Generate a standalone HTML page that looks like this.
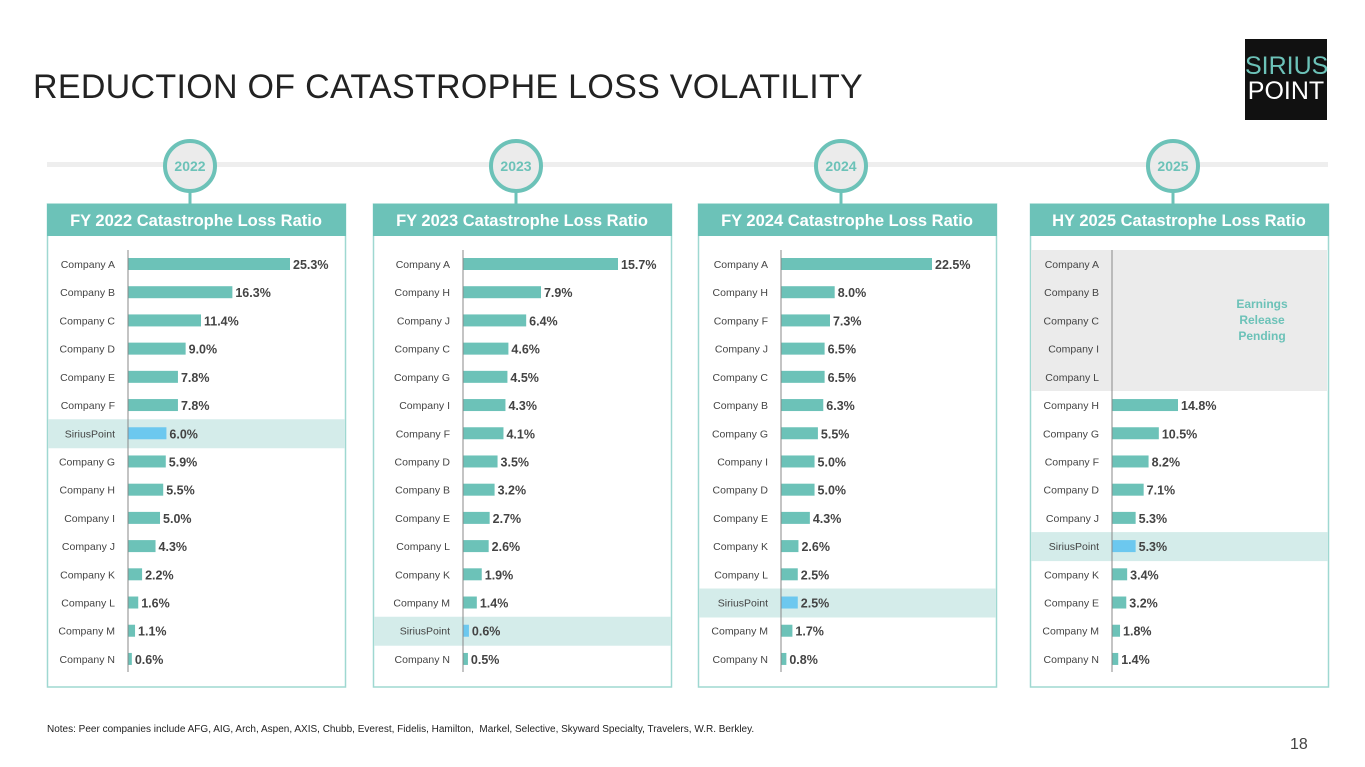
<!DOCTYPE html>
<html><head><meta charset="utf-8">
<style>
body{margin:0;width:1365px;height:767px;background:#fff;font-family:"Liberation Sans",sans-serif;position:relative;overflow:hidden}
#title{position:absolute;left:33px;top:68px;font-size:34px;color:#222;letter-spacing:0.3px;white-space:nowrap}
#logo{position:absolute;left:1245px;top:39px;width:82px;height:81px;background:#111;color:#fff;text-align:center;font-size:25px;line-height:25px}
.notes{position:absolute;left:47px;top:724px;font-size:10px;color:#222}
.pn{position:absolute;left:1290px;top:736px;font-size:16px;color:#444}
svg{position:absolute;left:0;top:0}
</style></head><body>
<div id="title">REDUCTION OF CATASTROPHE LOSS VOLATILITY</div>
<div id="logo"><div style="color:#6cc2b8;margin-top:15px">SIRIUS</div><div>POINT</div></div>
<svg id="chart" width="1365" height="767"></svg>
<div class="notes">Notes: Peer companies include AFG, AIG, Arch, Aspen, AXIS, Chubb, Everest, Fidelis, Hamilton,&nbsp; Markel, Selective, Skyward Specialty, Travelers, W.R. Berkley.</div>
<div class="pn">18</div>
<script>
const years=["2022","2023","2024","2025"];
const titles=["FY 2022 Catastrophe Loss Ratio","FY 2023 Catastrophe Loss Ratio","FY 2024 Catastrophe Loss Ratio","HY 2025 Catastrophe Loss Ratio"];
const cats1=["Company A","Company B","Company C","Company D","Company E","Company F","SiriusPoint","Company G","Company H","Company I","Company J","Company K","Company L","Company M","Company N"];
const vals1=[25.3,16.3,11.4,9.0,7.8,7.8,6.0,5.9,5.5,5.0,4.3,2.2,1.6,1.1,0.6];
const cats2=["Company A","Company H","Company J","Company C","Company G","Company I","Company F","Company D","Company B","Company E","Company L","Company K","Company M","SiriusPoint","Company N"];
const vals2=[15.7,7.9,6.4,4.6,4.5,4.3,4.1,3.5,3.2,2.7,2.6,1.9,1.4,0.6,0.5];
const cats3=["Company A","Company H","Company F","Company J","Company C","Company B","Company G","Company I","Company D","Company E","Company K","Company L","SiriusPoint","Company M","Company N"];
const vals3=[22.5,8.0,7.3,6.5,6.5,6.3,5.5,5.0,5.0,4.3,2.6,2.5,2.5,1.7,0.8];
const cats4=["Company A","Company B","Company C","Company I","Company L","Company H","Company G","Company F","Company D","Company J","SiriusPoint","Company K","Company E","Company M","Company N"];
const vals4=[null,null,null,null,null,14.8,10.5,8.2,7.1,5.3,5.3,3.4,3.2,1.8,1.4];
const maxes=[25.3,15.7,22.5,14.8];

const svg=document.getElementById('chart');const NS='http://www.w3.org/2000/svg';
function mk(t,a,p){const e=document.createElementNS(NS,t);for(const k in a)e.setAttribute(k,a[k]);(p||svg).appendChild(e);return e;}
const panels=[{x:47,cats:cats1,vals:vals1,base:128,w:162},{x:373,cats:cats2,vals:vals2,base:463,w:155},{x:698,cats:cats3,vals:vals3,base:781,w:151},{x:1030,cats:cats4,vals:vals4,base:1112,w:66}];
const T='#6cc2b8';
let l=mk('rect',{x:47,y:162,width:1281,height:5,fill:'#eeeeee'});


panels.forEach((p,i)=>{
  const W=298;
  let g=mk('g',{});
  
  
  mk('rect',{x:p.x+0.5,y:204,width:W,height:483,fill:'#fff',stroke:'#9fd8d1','stroke-width':1.5},g);
  let h=mk('rect',{x:p.x,y:204,width:W+1,height:32,fill:T},g);
  
  
  let ht=mk('text',{x:p.x+W/2,y:226,'text-anchor':'middle','font-size':16.5,'font-weight':'bold',fill:'#fff'},g);ht.textContent=titles[i];
  const cx=p.x+143;
  mk('rect',{x:cx-1.5,y:188,width:3,height:16,fill:T},g);
  let c=mk('circle',{cx:cx,cy:166,r:25,fill:'#ebebeb',stroke:T,'stroke-width':4},g);
  
  
  let yt=mk('text',{x:cx,y:171,'text-anchor':'middle','font-size':14,'font-weight':'bold',fill:T},g);yt.textContent=years[i];
  const row=k=>264+k*28.21;
  const sx=v=>v/maxes[i]*p.w;
  if(i==3){
    mk('rect',{x:p.x+1,y:250,width:W-2,height:141,fill:'#ebebeb'},g);
    ['Earnings','Release','Pending'].forEach((s,j)=>{let t=mk('text',{x:1262,y:308+j*16,'text-anchor':'middle','font-size':12,'font-weight':'bold',fill:T},g);t.textContent=s;});
  }
  p.cats.forEach((cn,k)=>{
    const y=row(k);const sp=cn==='SiriusPoint';
    if(sp){mk('rect',{x:p.x+1,y:y-14,width:W-1,height:29,fill:'#d4ecea'},g);}
    let t=mk('text',{x:p.base-13,y:y+4,'text-anchor':'end','font-size':10.5,fill:'#444'},g);t.textContent=cn;
    const v=p.vals[k];
    if(v!==null){
      let b=mk('rect',{x:p.base,y:y-6,width:sx(v),height:12,fill:sp?'#6cc8ef':T},g);
      
      
      let vt=mk('text',{x:p.base+sx(v)+3,y:y+5,'font-size':12.5,'font-weight':'bold',fill:'#444'},g);vt.textContent=v.toFixed(1)+'%';
    }
  });
  mk('line',{x1:p.base,x2:p.base,y1:250,y2:672,stroke:'#888','stroke-width':1},g);
});
</script>
</body></html>
